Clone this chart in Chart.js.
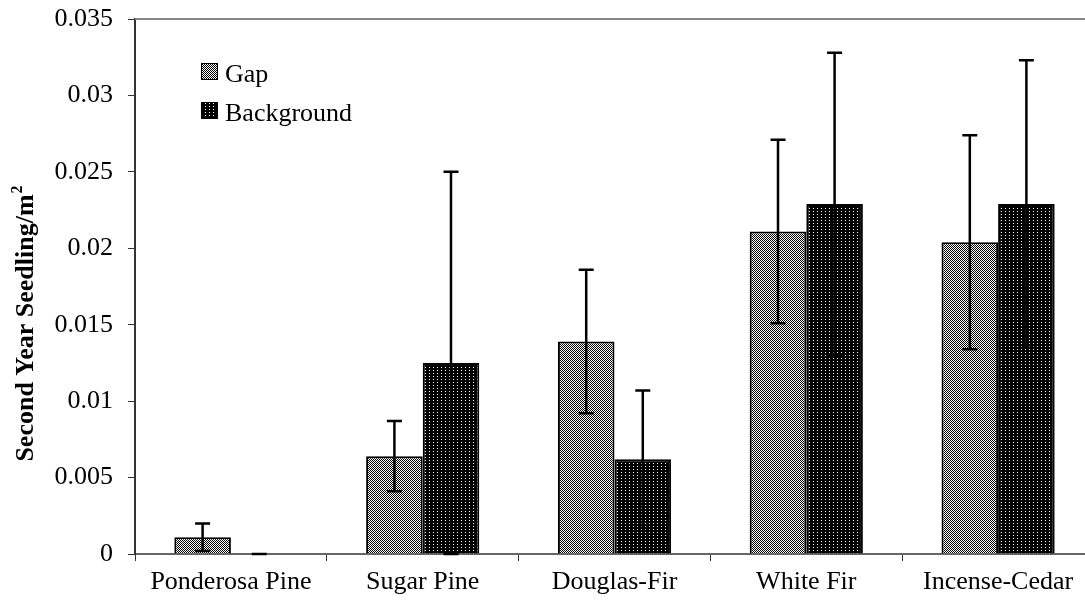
<!DOCTYPE html>
<html>
<head>
<meta charset="utf-8">
<script src="https://cdn.jsdelivr.net/npm/chart.js@4"></script>
<style>
  html, body { margin: 0; padding: 0; overflow: hidden; background: #fff; }
  #wrap { width: 1094px; height: 609px; }
</style>
</head>
<body>
<div id="wrap"><canvas id="chart" width="1094" height="609"></canvas></div>
<script>
const species = ['Ponderosa Pine', 'Sugar Pine', 'Douglas-Fir', 'White Fir', 'Incense-Cedar']
const gapValues = [0.0011, 0.0064, 0.0139, 0.0211, 0.0204]
const gapErrors = [0.0009, 0.0023, 0.0047, 0.0060, 0.0070]
const backgroundValues = [0, 0.0125, 0.0062, 0.0229, 0.0229]
const backgroundErrors = [0, 0.0125, 0.0045, 0.0099, 0.0094]
const yTicks = [0, 0.005, 0.01, 0.015, 0.02, 0.025, 0.03, 0.035]

const FONT = '"Liberation Serif", "Times New Roman", serif'

// little tiles for the Excel-like fill patterns
function makePattern (w, h, draw) {
  const c = document.createElement('canvas')
  c.width = w
  c.height = h
  const g = c.getContext('2d')
  draw(g)
  return g.createPattern(c, 'repeat')
}

const checker = makePattern(2, 2, g => {
  g.fillStyle = '#fff'
  g.fillRect(0, 0, 2, 2)
  g.fillStyle = '#000'
  g.fillRect(0, 0, 1, 1)
  g.fillRect(1, 1, 1, 1)
})

const dots = makePattern(4, 3, g => {
  g.fillStyle = '#000'
  g.fillRect(0, 0, 4, 3)
  g.fillStyle = '#fff'
  g.fillRect(1, 1, 1, 1)
})

const errorBars = {
  id: 'errorBars',
  afterDatasetsDraw (chart) {
    const y = chart.scales.y
    const ctx = chart.ctx
    ctx.save()
    ctx.strokeStyle = '#000'
    ctx.lineWidth = 2.5
    chart.data.datasets.forEach((ds, di) => {
      const meta = chart.getDatasetMeta(di)
      meta.data.forEach((bar, i) => {
        const v = ds.data[i]
        const e = ds.errors[i]
        const top = y.getPixelForValue(v + e)
        const bot = y.getPixelForValue(v - e)
        ctx.beginPath()
        ctx.moveTo(bar.x, top)
        ctx.lineTo(bar.x, bot)
        ctx.moveTo(bar.x - 7.5, top)
        ctx.lineTo(bar.x + 7.5, top)
        ctx.moveTo(bar.x - 7.5, bot)
        ctx.lineTo(bar.x + 7.5, bot)
        ctx.stroke()
      })
    })
    ctx.restore()
  }
}

const extras = {
  id: 'extras',
  afterDraw (chart) {
    const ctx = chart.ctx
    const area = chart.chartArea
    ctx.save()

    // top border of the plot area
    ctx.strokeStyle = '#888'
    ctx.lineWidth = 2
    ctx.beginPath()
    ctx.moveTo(area.left, area.top)
    ctx.lineTo(area.right, area.top)
    ctx.stroke()

    // legend inside the plot
    chart.data.datasets.forEach((ds, i) => {
      const bx = 201
      const by = 63 + i * 39
      ctx.fillStyle = ds.backgroundColor
      ctx.fillRect(bx, by, 17, 17)
      ctx.strokeStyle = '#000'
      ctx.lineWidth = 1
      ctx.strokeRect(bx + 0.5, by + 0.5, 16, 16)
      ctx.fillStyle = '#000'
      ctx.font = '26px ' + FONT
      ctx.textBaseline = 'alphabetic'
      ctx.textAlign = 'left'
      ctx.fillText(ds.label, 225, by + 19)
    })

    // y axis title with superscript
    const main = 'Second Year Seedling/m'
    ctx.translate(33, 324)
    ctx.rotate(-Math.PI / 2)
    ctx.font = 'bold 26px ' + FONT
    const w1 = ctx.measureText(main).width
    ctx.font = 'bold 16px ' + FONT
    const w2 = ctx.measureText('2').width
    const start = -(w1 + w2) / 2
    ctx.fillStyle = '#000'
    ctx.textAlign = 'left'
    ctx.textBaseline = 'alphabetic'
    ctx.font = 'bold 26px ' + FONT
    ctx.fillText(main, start, 0)
    ctx.font = 'bold 16px ' + FONT
    ctx.fillText('2', start + w1 + 1, -11)
    ctx.restore()
  }
}

const chart = new Chart(document.getElementById('chart'), {
  type: 'bar',
  data: {
    labels: species,
    datasets: [
      {
        label: 'Gap',
        data: gapValues,
        errors: gapErrors,
        backgroundColor: checker,
        borderColor: '#000',
        borderWidth: 2
      },
      {
        label: 'Background',
        data: backgroundValues,
        errors: backgroundErrors,
        backgroundColor: dots,
        borderColor: '#000',
        borderWidth: 2
      }
    ]
  },
  options: {
    responsive: false,
    animation: false,
    devicePixelRatio: 1,
    layout: { padding: { top: 19, right: 0, left: 0, bottom: 0 } },
    datasets: {
      bar: { categoryPercentage: 0.59, barPercentage: 1 }
    },
    plugins: {
      legend: { display: false },
      tooltip: { enabled: false }
    },
    scales: {
      x: {
        afterFit: s => {
          s.height = 55
          s.paddingLeft = 0
          s.paddingRight = 0
        },
        border: { color: '#666', width: 2 },
        grid: { drawOnChartArea: false, tickLength: 7, color: '#333', lineWidth: 1, offset: true },
        ticks: { color: '#000', padding: 6, font: { family: FONT, size: 26 }, maxRotation: 0 }
      },
      y: {
        min: 0,
        max: 0.035,
        afterFit: s => {
          s.width = 135
          s.paddingTop = 0
          s.paddingBottom = 0
        },
        afterBuildTicks: s => { s.ticks = yTicks.map(v => ({ value: v })) },
        border: { color: '#333', width: 2 },
        grid: { drawOnChartArea: false, tickLength: 7, color: '#333', lineWidth: 1 },
        ticks: {
          color: '#000',
          padding: 15,
          font: { family: FONT, size: 26 },
          callback: v => String(+v.toFixed(3))
        }
      }
    }
  },
  plugins: [errorBars, extras]
})
</script>
</body>
</html>
